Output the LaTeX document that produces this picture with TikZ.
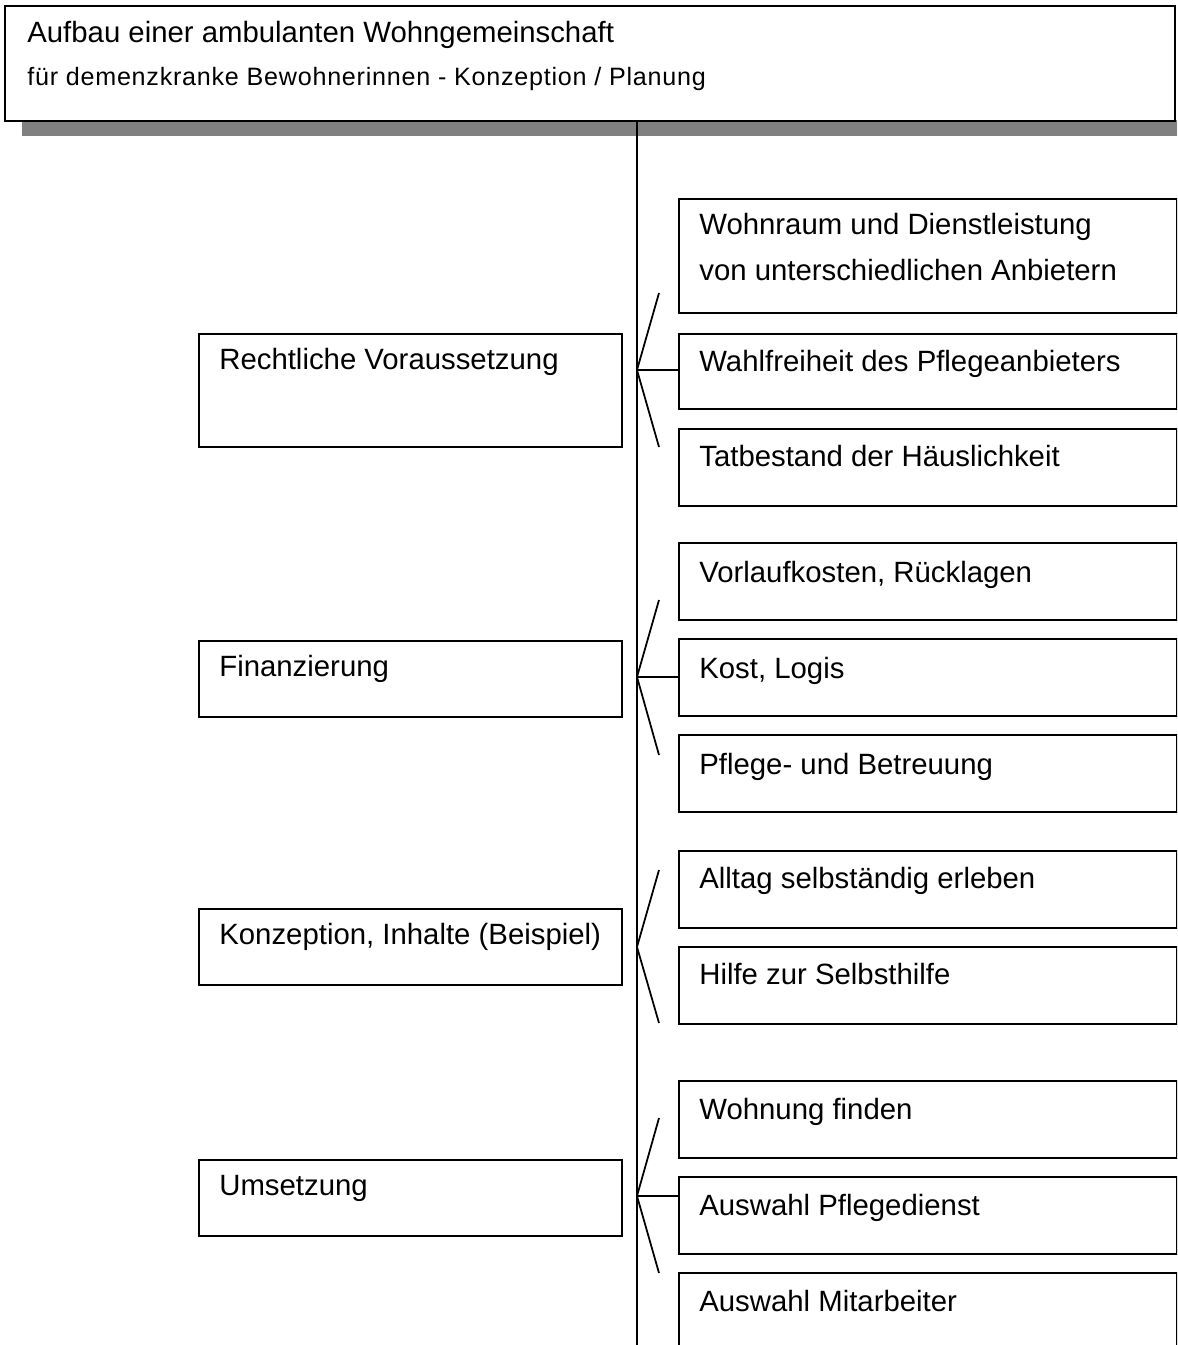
\documentclass[tikz,border=0pt]{standalone}
\usepackage{fontspec}
\setmainfont{Liberation Sans}
\newfontfamily\subfont[LetterSpace=3]{Liberation Sans}
\usetikzlibrary{calc}

\begin{document}
\begin{tikzpicture}[x=0.02cm, y=-0.02cm,
  box/.style={rectangle, draw, line width=1pt, fill=white,
    inner sep=0pt, anchor=north west},
  titlebox/.style={box, minimum width=23.4cm, minimum height=2.3cm},
  lbox/.style={box, minimum width=8.46cm, minimum height=1.52cm},
  rbox/.style={box, minimum width=9.96cm, minimum height=1.54cm},
  txt/.style={anchor=base west, inner sep=0pt, align=left,
    font=\fontsize{16.7}{26}\selectfont},
  subtxt/.style={txt, font=\subfont\fontsize{14.3}{20}\selectfont},
  link/.style={line width=1pt}
]
\clip (0,0) rectangle (1177,1345);
% Kopfzeile mit Schatten
\fill[gray] (22,120) rectangle (1177,136);
\node[titlebox] (title) at (4,5) {};
\node[txt] (title1) at ($(title.north west)+(23,38)$) {Aufbau einer ambulanten Wohngemeinschaft};
\node[subtxt] (title2) at ($(title.north west)+(23,81)$) {für demenzkranke Bewohnerinnen - Konzeption / Planung};
\coordinate (stem) at (637,1345);
\draw[link] (title.south -| stem) -- (stem);
% linke Spalte
\node[lbox, minimum height=2.26cm] (l1) at (198,333) {};
\node[txt] (l1t) at ($(l1.north west)+(21,36)$) {Rechtliche Voraussetzung};
\node[lbox] (l2) at (198,640) {};
\node[txt] (l2t) at ($(l2.north west)+(21,36)$) {Finanzierung};
\node[lbox] (l3) at (198,908) {};
\node[txt] (l3t) at ($(l3.north west)+(21,36)$) {Konzeption, Inhalte (Beispiel)};
\node[lbox] (l4) at (198,1159) {};
\node[txt] (l4t) at ($(l4.north west)+(21,36)$) {Umsetzung};
% rechte Spalte
\node[rbox, minimum height=2.28cm] (r1a) at (678,198) {};
\node[txt] (r1at) at ($(r1a.north west)+(21,82)$) {Wohnraum und Dienstleistung\\von unterschiedlichen Anbietern};
\node[rbox, minimum height=1.5cm] (r1b) at (678,333) {};
\node[txt] (r1bt) at ($(r1b.north west)+(21,38)$) {Wahlfreiheit des Pflegeanbieters};
\node[rbox] (r1c) at (678,428) {};
\node[txt] (r1ct) at ($(r1c.north west)+(21,38)$) {Tatbestand der Häuslichkeit};
\node[rbox] (r2a) at (678,542) {};
\node[txt] (r2at) at ($(r2a.north west)+(21,40)$) {Vorlaufkosten, Rücklagen};
\node[rbox] (r2b) at (678,638) {};
\node[txt] (r2bt) at ($(r2b.north west)+(21,40)$) {Kost, Logis};
\node[rbox] (r2c) at (678,734) {};
\node[txt] (r2ct) at ($(r2c.north west)+(21,40)$) {Pflege- und Betreuung};
\node[rbox] (r3a) at (678,850) {};
\node[txt] (r3at) at ($(r3a.north west)+(21,38)$) {Alltag selbständig erleben};
\node[rbox] (r3b) at (678,946) {};
\node[txt] (r3bt) at ($(r3b.north west)+(21,38)$) {Hilfe zur Selbsthilfe};
\node[rbox] (r4a) at (678,1080) {};
\node[txt] (r4at) at ($(r4a.north west)+(21,39)$) {Wohnung finden};
\node[rbox] (r4b) at (678,1176) {};
\node[txt] (r4bt) at ($(r4b.north west)+(21,39)$) {Auswahl Pflegedienst};
\node[rbox] (r4c) at (678,1272) {};
\node[txt] (r4ct) at ($(r4c.north west)+(21,39)$) {Auswahl Mitarbeiter};
% Klammern an der Mittellinie
\foreach \g/\m/\t/\b in {1/370/293/447, 2/677/600/755, 3/947/870/1023, 4/1196/1118/1273} {
  \coordinate (j\g) at (637,\m);
  \coordinate (j\g t) at (659,\t);
  \coordinate (j\g b) at (659,\b);
  \draw[link] (j\g t) -- (j\g) -- (j\g b);
}
\draw[link] (j1) -- (j1 -| r1b.west);
\draw[link] (j2) -- (j2 -| r2b.west);
\draw[link] (j4) -- (j4 -| r4b.west);
\end{tikzpicture}
\end{document}
